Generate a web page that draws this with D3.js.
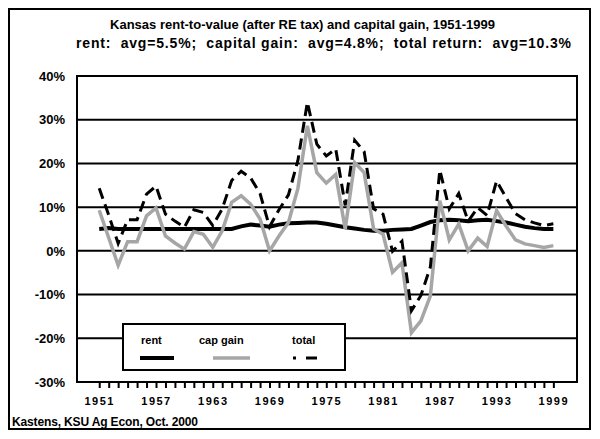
<!DOCTYPE html>
<html>
<head>
<meta charset="utf-8">
<script src="https://cdn.jsdelivr.net/npm/d3@7"></script>
<style>
	body { margin: 0; background: #fff; }
	svg text { font-family: "Liberation Sans", Arial, sans-serif; font-weight: bold; fill: #000; }
</style>
</head>
<body>
<div id="chart"></div>
<script>
// Data
var years = d3.range(1951, 2000);
var rent = [5.0, 5.2, 5.0, 5.0, 5.0, 5.0, 5.0, 5.0, 5.0, 5.0,
	5.0, 5.0, 5.0, 5.0, 5.0, 5.6, 6.0, 5.8, 5.5, 6.0,
	6.3, 6.4, 6.5, 6.5, 6.2, 5.8, 5.4, 5.1, 4.8, 4.6,
	4.6, 4.8, 4.9, 5.0, 5.8, 6.6, 7.0, 7.1, 7.0, 6.8,
	7.0, 7.1, 6.8, 6.5, 6.0, 5.5, 5.2, 5.0, 5.0];
var capGain = [9.3, 3.0, -3.3, 2.1, 2.1, 8.0, 9.8, 3.4, 1.8, 0.4,
	4.4, 3.8, 0.8, 4.6, 11.1, 12.6, 10.7, 7.3, 0.0, 3.4,
	6.5, 14.3, 28.6, 17.9, 15.5, 17.5, 5.0, 20.2, 17.9, 5.0,
	3.8, -4.9, -2.7, -18.7, -16.0, -10.3, 11.5, 2.5, 6.1, 0.0,
	2.9, 1.0, 9.2, 5.7, 2.5, 1.6, 1.2, 0.8, 1.2];
var total = [14.3, 8.2, 1.7, 7.1, 7.1, 13.0, 14.8, 8.4, 6.8, 5.4,
	9.4, 8.8, 5.8, 9.6, 16.1, 18.2, 16.7, 13.1, 5.5, 9.4,
	12.8, 20.7, 34.0, 24.4, 21.7, 23.3, 10.4, 25.3, 22.7, 9.6,
	8.4, -0.1, 2.2, -13.7, -10.2, -3.7, 18.5, 9.6, 13.1, 6.8,
	9.9, 8.1, 16.0, 12.2, 8.5, 7.1, 6.4, 5.8, 6.2];
var yTicks = [-30, -20, -10, 0, 10, 20, 30, 40];
var xLabelYears = [1951, 1957, 1963, 1969, 1975, 1981, 1987, 1993, 1999];
var titleText = "Kansas rent-to-value (after RE tax) and capital gain, 1951-1999";
var subtitleText = "rent:  avg=5.5%;  capital gain:  avg=4.8%;  total return:  avg=10.3%";
var footerText = "Kastens, KSU Ag Econ, Oct. 2000";

var width = 600, height = 439;
var marginTop = 76, marginBottom = 57, marginLeft = 77, marginRight = 23;

var svg = d3.select("#chart").append("svg")
	.attr("width", width)
	.attr("height", height);

// outer frame
svg.append("rect")
	.attr("x", 9).attr("y", 9)
	.attr("width", 581).attr("height", 420)
	.attr("fill", "none")
	.attr("stroke", "#000")
	.attr("stroke-width", 2);

svg.append("text")
	.attr("x", 110).attr("y", 29)
	.attr("textLength", 385)
	.attr("lengthAdjust", "spacing")
	.style("font-size", "13px")
	.text(titleText);
svg.append("text")
	.attr("x", 76).attr("y", 48)
	.attr("textLength", 495)
	.attr("lengthAdjust", "spacing")
	.style("font-size", "14px")
	.style("white-space", "pre")
	.text(subtitleText);

var x = d3.scaleLinear()
	.domain([1948.65, 2001.5])
	.range([marginLeft, width - marginRight]);
var y = d3.scaleLinear()
	.domain([-30, 40])
	.range([height - marginBottom, marginTop]);

// gridlines
svg.append("g")
	.selectAll("line")
	.data(yTicks)
	.enter()
	.append("line")
	.attr("x1", marginLeft)
	.attr("x2", width - marginRight)
	.attr("y1", function (d) { return y(d); })
	.attr("y2", function (d) { return y(d); })
	.attr("stroke", "#000")
	.attr("stroke-width", 2);

// y axis labels
svg.append("g")
	.attr("transform", `translate(${marginLeft}, 0)`)
	.call(d3.axisLeft(y).tickValues(yTicks).tickSize(0).tickPadding(12)
		.tickFormat(function (d) { return d + "%"; }))
	.call(function (g) { g.select(".domain").remove(); })
	.selectAll("text")
	.style("font-size", "13px")
	.style("font-family", "'Liberation Sans', Arial, sans-serif");

// x axis
var xAxis = svg.append("g")
	.attr("transform", `translate(0, ${height - marginBottom})`)
	.call(d3.axisBottom(x).tickValues(years).tickSize(6).tickPadding(9)
		.tickFormat(function (d) { return xLabelYears.indexOf(d) >= 0 ? d : ""; }));
xAxis.select(".domain").remove();
xAxis.selectAll(".tick line").attr("stroke", "#000").attr("stroke-width", 2);
xAxis.selectAll("text")
	.style("font-size", "11px")
	.style("letter-spacing", "1.5px")
	.style("font-family", "'Liberation Sans', Arial, sans-serif");

// plot border
svg.append("rect")
	.attr("x", marginLeft).attr("y", marginTop)
	.attr("width", width - marginLeft - marginRight)
	.attr("height", height - marginTop - marginBottom)
	.attr("fill", "none")
	.attr("stroke", "#000")
	.attr("stroke-width", 2);

var line = function (vals) {
	return d3.line()
		.x(function (d, i) { return x(years[i]); })
		.y(function (d) { return y(d); })(vals);
};

svg.append("path")
	.attr("d", line(rent))
	.attr("fill", "none")
	.attr("stroke", "#000")
	.attr("stroke-width", 4);
svg.append("path")
	.attr("d", line(capGain))
	.attr("fill", "none")
	.attr("stroke", "#a6a6a6")
	.attr("stroke-width", 3.5);
svg.append("path")
	.attr("d", line(total))
	.attr("fill", "none")
	.attr("stroke", "#000")
	.attr("stroke-width", 3)
	.attr("stroke-dasharray", "11,6");

// legend
var legend = svg.append("g");
legend.append("rect")
	.attr("x", 123).attr("y", 324)
	.attr("width", 222).attr("height", 46)
	.attr("fill", "#fff")
	.attr("stroke", "#000")
	.attr("stroke-width", 2);
var legendItems = [
	{ label: "rent", color: "#000", w: 4, dash: null, tx: 141, x1: 140, x2: 174 },
	{ label: "cap gain", color: "#a6a6a6", w: 3.5, dash: null, tx: 199, x1: 213, x2: 250 },
	{ label: "total", color: "#000", w: 3, dash: "3,10,11,6", tx: 292, x1: 293, x2: 318 }
];
legendItems.forEach(function (d) {
	legend.append("text")
		.attr("x", d.tx).attr("y", 344)
		.style("font-size", "11px")
		.text(d.label);
	legend.append("line")
		.attr("x1", d.x1).attr("x2", d.x2)
		.attr("y1", 358).attr("y2", 358)
		.attr("stroke", d.color)
		.attr("stroke-width", d.w)
		.attr("stroke-dasharray", d.dash);
});

svg.append("text")
	.attr("x", 12).attr("y", 426)
	.attr("textLength", 186)
	.attr("lengthAdjust", "spacing")
	.style("font-size", "12px")
	.text(footerText);
</script>
</body>
</html>
